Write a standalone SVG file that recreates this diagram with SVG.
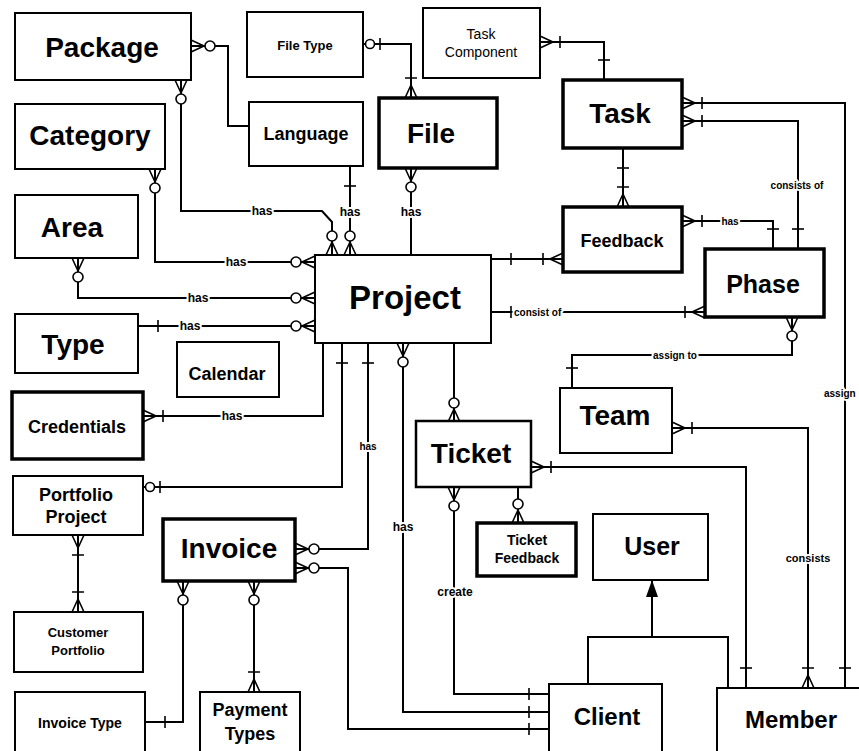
<svg xmlns="http://www.w3.org/2000/svg" width="859" height="751" viewBox="0 0 859 751">
<style>
.box{fill:#fff;stroke:#000;stroke-width:2}
.thick{stroke-width:3.5}
text{font-family:"Liberation Sans",Arial,sans-serif;fill:#000;text-anchor:middle}
.big{font-size:28px;font-weight:bold}
.med{font-size:18px;font-weight:bold}
.sm{font-size:13px;font-weight:bold}
.reg{font-size:14px}
.lbl{font-size:12px;font-weight:bold;stroke:#fff;stroke-width:4;paint-order:stroke;stroke-linejoin:round}
.tiny{font-size:10px;font-weight:bold;stroke:#fff;stroke-width:4;paint-order:stroke;stroke-linejoin:round}
.c path,.c line{fill:none;stroke:#000;stroke-width:2}
.ms{fill:none;stroke:#000;stroke-width:1.6}
.mc{fill:#fff;stroke:#000;stroke-width:1.6}
</style>
<defs>
<marker id="co" markerUnits="userSpaceOnUse" orient="auto-start-reverse" markerWidth="1" markerHeight="1" refX="0" refY="0" style="overflow:visible">
<path class="ms" d="M-13,0 L0,-6 M-13,0 L0,0 M-13,0 L0,6"/><circle class="mc" cx="-19" cy="0" r="5"/>
</marker>
<marker id="ct" markerUnits="userSpaceOnUse" orient="auto-start-reverse" markerWidth="1" markerHeight="1" refX="0" refY="0" style="overflow:visible">
<path class="ms" d="M-13,0 L0,-6 M-13,0 L0,0 M-13,0 L0,6 M-20,-6 L-20,6"/>
</marker>
<marker id="t" markerUnits="userSpaceOnUse" orient="auto-start-reverse" markerWidth="1" markerHeight="1" refX="0" refY="0" style="overflow:visible">
<path class="ms" d="M-20,-6 L-20,6"/>
</marker>
<marker id="ot" markerUnits="userSpaceOnUse" orient="auto-start-reverse" markerWidth="1" markerHeight="1" refX="0" refY="0" style="overflow:visible">
<path class="ms" d="M-17,-6 L-17,6"/><circle class="mc" cx="-7" cy="0" r="4.5"/>
</marker>
<marker id="tri" markerUnits="userSpaceOnUse" orient="auto-start-reverse" markerWidth="1" markerHeight="1" refX="0" refY="0" style="overflow:visible">
<path d="M-17,-6 L0,0 L-17,6 Z" fill="#000"/>
</marker>
</defs>

<g id="connectors" class="c">
<path d="M191,46 H228 V126 H249" marker-start="url(#co)"/>
<path d="M181,80 V211 H322 L332,222 V255" marker-start="url(#co)" marker-end="url(#co)"/>
<path d="M350,166 V255" marker-start="url(#t)" marker-end="url(#co)"/>
<path d="M411,168 V255" marker-start="url(#co)"/>
<path d="M363,44 H411 V98" marker-start="url(#ot)" marker-end="url(#ct)"/>
<path d="M540,42 H604 V80" marker-start="url(#ct)" marker-end="url(#t)"/>
<path d="M682,103 H845 V688" marker-start="url(#ct)" marker-end="url(#t)"/>
<path d="M682,121 H798 V249" marker-start="url(#ct)" marker-end="url(#t)"/>
<path d="M623,148 V207" marker-start="url(#t)" marker-end="url(#ct)"/>
<path d="M682,221 H773 V249" marker-start="url(#ct)" marker-end="url(#t)"/>
<path d="M491,259 H563" marker-start="url(#t)" marker-end="url(#ct)"/>
<path d="M491,312 H705" marker-start="url(#t)" marker-end="url(#ct)"/>
<path d="M792,317 V355 H572 V388" marker-start="url(#co)" marker-end="url(#t)"/>
<path d="M155,169 V262 H315" marker-start="url(#co)" marker-end="url(#co)"/>
<path d="M78,258 V298 H315" marker-start="url(#co)" marker-end="url(#co)"/>
<path d="M138,326 H315" marker-start="url(#t)" marker-end="url(#co)"/>
<path d="M323,343 V416 H143" marker-end="url(#ct)"/>
<path d="M342,343 V487 H143" marker-start="url(#t)" marker-end="url(#ot)"/>
<path d="M368,343 V549 H295" marker-start="url(#t)" marker-end="url(#co)"/>
<path d="M403,343 V712 H549" marker-start="url(#co)" marker-end="url(#t)"/>
<path d="M454,343 V422" marker-end="url(#co)"/>
<path d="M454,487 V694 H549" marker-start="url(#co)" marker-end="url(#t)"/>
<path d="M518,487 V523" marker-end="url(#co)"/>
<path d="M531,467 H746 V688" marker-start="url(#ct)" marker-end="url(#t)"/>
<path d="M672,428 H808 V688" marker-start="url(#ct)" marker-end="url(#ct)"/>
<path d="M295,568 H348 V729 H549" marker-start="url(#co)" marker-end="url(#t)"/>
<path d="M145,722 H183 V581" marker-start="url(#t)" marker-end="url(#co)"/>
<path d="M254,581 V692" marker-start="url(#co)" marker-end="url(#ct)"/>
<path d="M78,535 V612" marker-start="url(#ct)" marker-end="url(#ct)"/>
<path d="M588,684 V637 H728 V688"/>
<path d="M652,637 V580" marker-end="url(#tri)"/>
<text class="lbl" x="262" y="215">has</text>
<text class="lbl" x="350" y="216">has</text>
<text class="lbl" x="411" y="216">has</text>
<text class="lbl" x="236" y="266">has</text>
<text class="lbl" x="198" y="302">has</text>
<text class="lbl" x="190" y="330">has</text>
<text class="lbl" x="232" y="420">has</text>
<text class="tiny" x="368" y="450">has</text>
<text class="lbl" x="403" y="531">has</text>
<text class="lbl" x="455" y="596">create</text>
<text class="tiny" x="808" y="562" style="font-size:11px">consists</text>
<text class="tiny" x="824" y="397" style="text-anchor:start">assign</text>
<text class="tiny" x="675" y="359">assign to</text>
<text class="tiny" x="514" y="316" style="text-anchor:start">consist of</text>
<text class="tiny" x="730" y="225">has</text>
<text class="tiny" x="797" y="189">consists of</text>
</g>

<g id="package"><rect class="box" x="15" y="13" width="176" height="67"/><text class="big" x="102" y="57">Package</text></g>
<g id="filetype"><rect class="box" x="247" y="12" width="116" height="65"/><text class="sm" x="305" y="50">File Type</text></g>
<g id="taskcomponent"><rect class="box" x="423" y="8" width="117" height="70"/><text class="reg" x="481" y="39">Task</text><text class="reg" x="481" y="57">Component</text></g>
<g id="task"><rect class="box thick" x="563" y="80" width="119" height="68"/><text class="big" x="620" y="123">Task</text></g>
<g id="category"><rect class="box" x="15" y="104" width="150" height="65"/><text class="big" x="90" y="145">Category</text></g>
<g id="language"><rect class="box" x="249" y="102" width="114" height="64"/><text class="med" x="306" y="140">Language</text></g>
<g id="file"><rect class="box thick" x="379" y="98" width="118" height="70"/><text class="big" x="431" y="143">File</text></g>
<g id="area"><rect class="box" x="15" y="195" width="123" height="63"/><text class="big" x="72" y="237">Area</text></g>
<g id="feedback"><rect class="box thick" x="563" y="207" width="119" height="65"/><text class="med" x="622" y="247">Feedback</text></g>
<g id="phase"><rect class="box thick" x="705" y="249" width="119" height="68"/><text class="big" x="763" y="293" style="font-size:25px">Phase</text></g>
<g id="project"><rect class="box" x="315" y="255" width="176" height="88"/><text class="big" x="405" y="309" style="font-size:33px">Project</text></g>
<g id="type"><rect class="box" x="15" y="314" width="123" height="59"/><text class="big" x="73" y="354">Type</text></g>
<g id="calendar"><rect class="box" x="177" y="342" width="102" height="55"/><text class="med" x="227" y="380">Calendar</text></g>
<g id="credentials"><rect class="box thick" x="12" y="392" width="131" height="67"/><text class="med" x="77" y="433">Credentials</text></g>
<g id="team"><rect class="box" x="560" y="388" width="112" height="65"/><text class="big" x="615" y="425">Team</text></g>
<g id="ticket"><rect class="box" x="416" y="421" width="115" height="66" style="stroke-width:2.5"/><text class="big" x="471" y="463">Ticket</text></g>
<g id="portfolioproject"><rect class="box" x="13" y="476" width="130" height="59"/><text class="med" x="76" y="501">Portfolio</text><text class="med" x="76" y="523">Project</text></g>
<g id="invoice"><rect class="box thick" x="163" y="519" width="132" height="62"/><text class="big" x="229" y="558">Invoice</text></g>
<g id="ticketfeedback"><rect class="box thick" x="477" y="523" width="99" height="53"/><text class="sm" x="527" y="545" style="font-size:14px">Ticket</text><text class="sm" x="527" y="563" style="font-size:14px">Feedback</text></g>
<g id="user"><rect class="box" x="593" y="514" width="115" height="66"/><text class="big" x="652" y="555" style="font-size:25px">User</text></g>
<g id="customerportfolio"><rect class="box" x="14" y="612" width="129" height="60"/><text class="sm" x="78" y="637">Customer</text><text class="sm" x="78" y="655">Portfolio</text></g>
<g id="invoicetype"><rect class="box" x="15" y="692" width="130" height="62"/><text class="sm" x="80" y="728" style="font-size:14px">Invoice Type</text></g>
<g id="paymenttypes"><rect class="box" x="200" y="692" width="100" height="62"/><text class="med" x="250" y="716">Payment</text><text class="med" x="250" y="740">Types</text></g>
<g id="client"><rect class="box" x="549" y="684" width="113" height="70"/><text class="big" x="607" y="725" style="font-size:24px">Client</text></g>
<g id="member"><rect class="box" x="717" y="688" width="150" height="70"/><text class="big" x="791" y="728" style="font-size:24px">Member</text></g>
</svg>
